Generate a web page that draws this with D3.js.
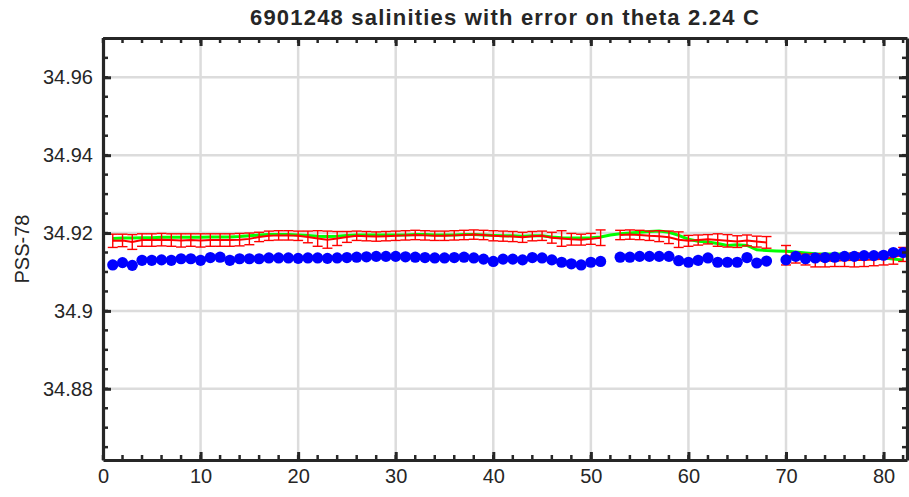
<!DOCTYPE html>
<html lang="en">
<head>
<meta charset="UTF-8">
<title>6901248 salinities</title>
<script src="https://cdn.jsdelivr.net/npm/d3@7"></script>
<style>
  html, body { margin: 0; padding: 0; background: #fff; }
  svg text { font-family: "Liberation Sans", Arial, Helvetica, sans-serif; fill: #262626; }
</style>
</head>
<body>
<div id="chart"></div>
<script>
// profile numbers
const profiles = d3.range(1, 83);

// float salinity on theta level (blue dots), null = missing
const floatSal = [
  34.9118, 34.9124, 34.9117, 34.9130, 34.9130, 34.9131, 34.9130, 34.9134, 34.9134, 34.9130,
  34.9137, 34.9138, 34.9130, 34.9134, 34.9134, 34.9134, 34.9136, 34.9136, 34.9136, 34.9135,
  34.9136, 34.9136, 34.9135, 34.9136, 34.9137, 34.9138, 34.9139, 34.9140, 34.9140, 34.9140,
  34.9139, 34.9138, 34.9137, 34.9136, 34.9136, 34.9137, 34.9138, 34.9136, 34.9133, 34.9127,
  34.9133, 34.9133, 34.9131, 34.9137, 34.9136, 34.9131, 34.9125, 34.9121, 34.9118, 34.9125,
  34.9127, null,    34.9138, 34.9138, 34.9140, 34.9140, 34.9140, 34.9140, 34.9129, 34.9125,
  34.9130, 34.9136, 34.9125, 34.9125, 34.9125, 34.9137, 34.9123, 34.9128, null,    34.9131,
  34.9140, 34.9134, 34.9136, 34.9137, 34.9138, 34.9140, 34.9140, 34.9142, 34.9142, 34.9143,
  34.9150, 34.9150
];

// mapped salinity (red line) and its error, null = missing
const mapSal = [
  34.9180, 34.9181, 34.9177, 34.9182, 34.9182, 34.9183, 34.9182, 34.9181, 34.9182, 34.9181,
  34.9182, 34.9182, 34.9182, 34.9183, 34.9185, 34.9190, 34.9193, 34.9194, 34.9194, 34.9193,
  34.9190, 34.9186, 34.9183, 34.9186, 34.9190, 34.9193, 34.9192, 34.9191, 34.9192, 34.9193,
  34.9194, 34.9195, 34.9194, 34.9193, 34.9193, 34.9194, 34.9195, 34.9196, 34.9195, 34.9193,
  34.9192, 34.9191, 34.9189, 34.9192, 34.9193, 34.9188, 34.9186, 34.9184, 34.9183, 34.9185,
  34.9188, null,    34.9195, 34.9196, 34.9195, 34.9193, 34.9192, 34.9189, 34.9183, 34.9180,
  34.9182, 34.9184, 34.9182, 34.9180, 34.9178, 34.9181, 34.9178, 34.9176, null,    34.9143,
  34.9136, 34.9132, 34.9130, 34.9129, 34.9129, 34.9130, 34.9131, 34.9131, 34.9132, 34.9134,
  34.9138, 34.9145
];

const mapErr = [
  0.0017, 0.0016, 0.0019, 0.0016, 0.0016, 0.0016, 0.0016, 0.0017, 0.0016, 0.0017,
  0.0016, 0.0016, 0.0016, 0.0016, 0.0015, 0.0012, 0.0012, 0.0012, 0.0012, 0.0012,
  0.0015, 0.0020, 0.0022, 0.0018, 0.0014, 0.0012, 0.0012, 0.0012, 0.0012, 0.0012,
  0.0012, 0.0012, 0.0012, 0.0012, 0.0012, 0.0012, 0.0012, 0.0012, 0.0012, 0.0013,
  0.0013, 0.0013, 0.0013, 0.0012, 0.0012, 0.0014, 0.0020, 0.0015, 0.0014, 0.0014,
  0.0020, null,   0.0012, 0.0012, 0.0012, 0.0012, 0.0014, 0.0016, 0.0020, 0.0014,
  0.0013, 0.0012, 0.0016, 0.0016, 0.0015, 0.0014, 0.0014, 0.0015, null,   0.0025,
  0.0013, 0.0014, 0.0017, 0.0016, 0.0015, 0.0016, 0.0018, 0.0017, 0.0016, 0.0016,
  0.0018, 0.0018
];

// smoothed mapped salinity (green line)
const smoothSal = [
  34.9186, 34.9187, 34.9187, 34.9188, 34.9188, 34.9189, 34.9189, 34.9189, 34.9189, 34.9189,
  34.9190, 34.9190, 34.9190, 34.9191, 34.9193, 34.9195, 34.9196, 34.9196, 34.9196, 34.9195,
  34.9194, 34.9192, 34.9191, 34.9192, 34.9194, 34.9195, 34.9195, 34.9195, 34.9195, 34.9195,
  34.9195, 34.9196, 34.9196, 34.9195, 34.9195, 34.9195, 34.9196, 34.9196, 34.9195, 34.9194,
  34.9193, 34.9193, 34.9192, 34.9193, 34.9193, 34.9190, 34.9188, 34.9187, 34.9187, 34.9188,
  34.9190, 34.9195, 34.9198, 34.9200, 34.9202, 34.9204, 34.9205, 34.9202, 34.9194, 34.9184,
  34.9179, 34.9177, 34.9173, 34.9168, 34.9170, 34.9168, 34.9157, 34.9155, 34.9154, 34.9153,
  34.9151, 34.9149, 34.9147, 34.9146, 34.9146, 34.9146, 34.9145, 34.9143, 34.9140, 34.9136,
  34.9133, 34.9131
];

const xTicks = [0, 10, 20, 30, 40, 50, 60, 70, 80];
const yTicks = [34.88, 34.9, 34.92, 34.94, 34.96];
const titleText = "6901248 salinities with error on theta 2.24 C";

const W = 909, H = 497;
const margin = { top: 38, right: 2, bottom: 37, left: 103 };
const width = W - margin.left - margin.right;
const height = H - margin.top - margin.bottom;

const svg = d3.select("#chart").append("svg")
  .attr("width", W)
  .attr("height", H);

const g = svg.append("g")
  .attr("transform", `translate(${margin.left},${margin.top})`);

const x = d3.scaleLinear().domain([0, 82.4]).range([0, width]);
const y = d3.scaleLinear().domain([34.8617, 34.9701]).range([height, 0]);

// grid
g.append("g").selectAll("line")
  .data(xTicks.filter(d => d > 0))
  .enter().append("line")
  .attr("x1", d => x(d)).attr("x2", d => x(d))
  .attr("y1", 0).attr("y2", height)
  .attr("stroke", "#dcdcdc").attr("stroke-width", 2.5);

g.append("g").selectAll("line")
  .data(yTicks)
  .enter().append("line")
  .attr("x1", 0).attr("x2", width)
  .attr("y1", d => y(d)).attr("y2", d => y(d))
  .attr("stroke", "#dcdcdc").attr("stroke-width", 2.5);

const rows = profiles.map((p, i) => ({
  p: p, f: floatSal[i], m: mapSal[i], e: mapErr[i], s: smoothSal[i]
}));

// green smoothed line
g.append("path")
  .datum(rows)
  .attr("fill", "none")
  .attr("stroke", "#00ff00")
  .attr("stroke-width", 3)
  .attr("d", d3.line().x(d => x(d.p)).y(d => y(d.s)));

// red line with error bars
const redLine = d3.line()
  .defined(d => d.m != null)
  .x(d => x(d.p)).y(d => y(d.m));

g.append("path")
  .datum(rows)
  .attr("fill", "none")
  .attr("stroke", "#ff0000")
  .attr("stroke-width", 2)
  .attr("d", redLine);

const eb = g.append("g").attr("stroke", "#ff0000").attr("stroke-width", 1.4);
const ebRows = rows.filter(d => d.m != null);
const cap = 5;
eb.selectAll(".v").data(ebRows).enter().append("line")
  .attr("x1", d => x(d.p)).attr("x2", d => x(d.p))
  .attr("y1", d => y(d.m - d.e)).attr("y2", d => y(d.m + d.e));
eb.selectAll(".t").data(ebRows).enter().append("line")
  .attr("x1", d => x(d.p) - cap).attr("x2", d => x(d.p) + cap)
  .attr("y1", d => y(d.m + d.e)).attr("y2", d => y(d.m + d.e));
eb.selectAll(".b").data(ebRows).enter().append("line")
  .attr("x1", d => x(d.p) - cap).attr("x2", d => x(d.p) + cap)
  .attr("y1", d => y(d.m - d.e)).attr("y2", d => y(d.m - d.e));

// blue float dots
g.append("g").selectAll("circle")
  .data(rows.filter(d => d.f != null))
  .enter().append("circle")
  .attr("cx", d => x(d.p))
  .attr("cy", d => y(d.f))
  .attr("r", 5.6)
  .attr("fill", "#0000ff");

// axes: ticks inward on all four sides
function styleAxis(sel) {
  sel.select(".domain").attr("stroke", "#262626").attr("stroke-width", 3.2);
  sel.selectAll(".tick line").attr("stroke", "#262626").attr("stroke-width", 3);
  sel.selectAll("text").attr("font-size", 20).attr("fill", "#262626")
    .attr("font-family", "Liberation Sans, Arial, sans-serif");
}

const xMinor = d3.range(0, 83, 2);
const yMinor = d3.range(34.865, 34.9701, 0.005);

function minorTicks(orient, vals, scale, len) {
  const gg = g.append("g");
  gg.selectAll("line").data(vals).enter().append("line")
    .attr("stroke", "#262626").attr("stroke-width", 2.5)
    .each(function (d) {
      const l = d3.select(this);
      if (orient === "bottom") l.attr("x1", scale(d)).attr("x2", scale(d)).attr("y1", height).attr("y2", height - len);
      if (orient === "top") l.attr("x1", scale(d)).attr("x2", scale(d)).attr("y1", 0).attr("y2", len);
      if (orient === "left") l.attr("y1", scale(d)).attr("y2", scale(d)).attr("x1", 0).attr("x2", len);
      if (orient === "right") l.attr("y1", scale(d)).attr("y2", scale(d)).attr("x1", width).attr("x2", width - len);
    });
}
minorTicks("bottom", xMinor, x, 5);
minorTicks("top", xMinor, x, 5);
minorTicks("left", yMinor, y, 5);
minorTicks("right", yMinor, y, 5);

g.append("g")
  .attr("transform", `translate(0,${height})`)
  .call(d3.axisBottom(x).tickValues(xTicks).tickFormat(d3.format("d"))
    .tickSizeInner(-8).tickSizeOuter(0).tickPadding(9))
  .call(styleAxis);

g.append("g")
  .call(d3.axisTop(x).tickValues(xTicks).tickFormat("")
    .tickSizeInner(-8).tickSizeOuter(0))
  .call(styleAxis);

g.append("g")
  .call(d3.axisLeft(y).tickValues(yTicks).tickFormat(d => String(+d.toFixed(2)))
    .tickSizeInner(-8).tickSizeOuter(0).tickPadding(10))
  .call(styleAxis);

g.append("g")
  .attr("transform", `translate(${width},0)`)
  .call(d3.axisRight(y).tickValues(yTicks).tickFormat("")
    .tickSizeInner(-8).tickSizeOuter(0))
  .call(styleAxis);

// title and label
svg.append("text")
  .attr("x", margin.left + width / 2)
  .attr("y", 25)
  .attr("text-anchor", "middle")
  .attr("font-size", 22)
  .attr("font-weight", "bold")
  .attr("letter-spacing", 1.2)
  .text(titleText);

svg.append("text")
  .attr("transform", `translate(29,${margin.top + height / 2}) rotate(-90)`)
  .attr("text-anchor", "middle")
  .attr("font-size", 20)
  .text("PSS-78");
</script>
</body>
</html>
